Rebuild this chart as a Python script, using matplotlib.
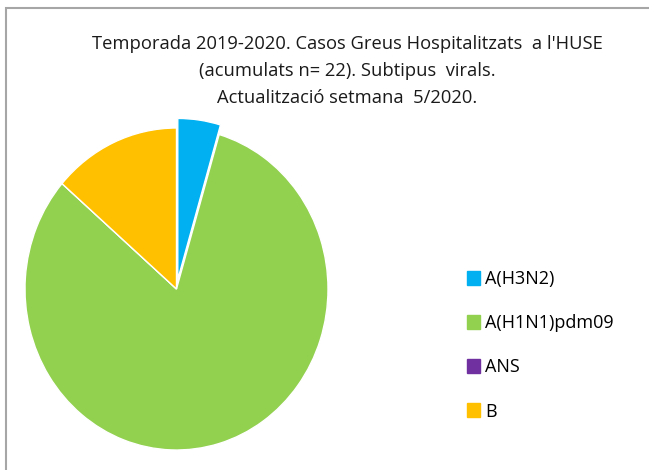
import matplotlib.pyplot as plt
from matplotlib.patches import Rectangle

plt.rcParams['font.family'] = ['Open Sans', 'DejaVu Sans']

# data
labels = ['A(H3N2)', 'A(H1N1)pdm09', 'ANS', 'B']
cases = [1, 18, 0, 3]
colors = ['#00B0F0', '#92D050', '#7030A0', '#FFC000']
explode = [0.06, 0, 0, 0]

title = ("Temporada 2019-2020. Casos Greus Hospitalitzats  a l'HUSE\n"
         "(acumulats n= 22). Subtipus  virals.\n"
         "Actualització setmana  5/2020.")

fig = plt.figure(figsize=(6.49, 4.70), dpi=100)

# chart frame (cropped on right and bottom)
fig.patches.append(Rectangle((6 / 649, -0.1), 2.0, (470 - 8) / 470 + 0.1,
                             transform=fig.transFigure, fill=False,
                             edgecolor='#A6A6A6', linewidth=1.5))

fig.text(0.535, 0.926, title, ha='center', va='top', fontsize=13.2,
         linespacing=1.65, color='#1a1a1a')

ax = fig.add_axes([25 / 649, (470 - 450) / 470, 303 / 649, 322 / 470])
wedges, _ = ax.pie(cases, colors=colors, explode=explode, startangle=90,
                   counterclock=False,
                   wedgeprops=dict(edgecolor='white', linewidth=1))
ax.set_xlim(-1, 1)
ax.set_ylim(-1, 1)
ax.set_aspect('auto')
ax.axis('off')

handles = [Rectangle((0, 0), 1, 1, color=c) for c in colors]
fig.legend(handles, labels, loc='upper left', bbox_to_anchor=(0.695, 0.46),
           frameon=False, fontsize=13, handlelength=0.7, handleheight=0.8,
           handletextpad=0.3, labelspacing=1.45)

fig.savefig('out.png', dpi=100)
